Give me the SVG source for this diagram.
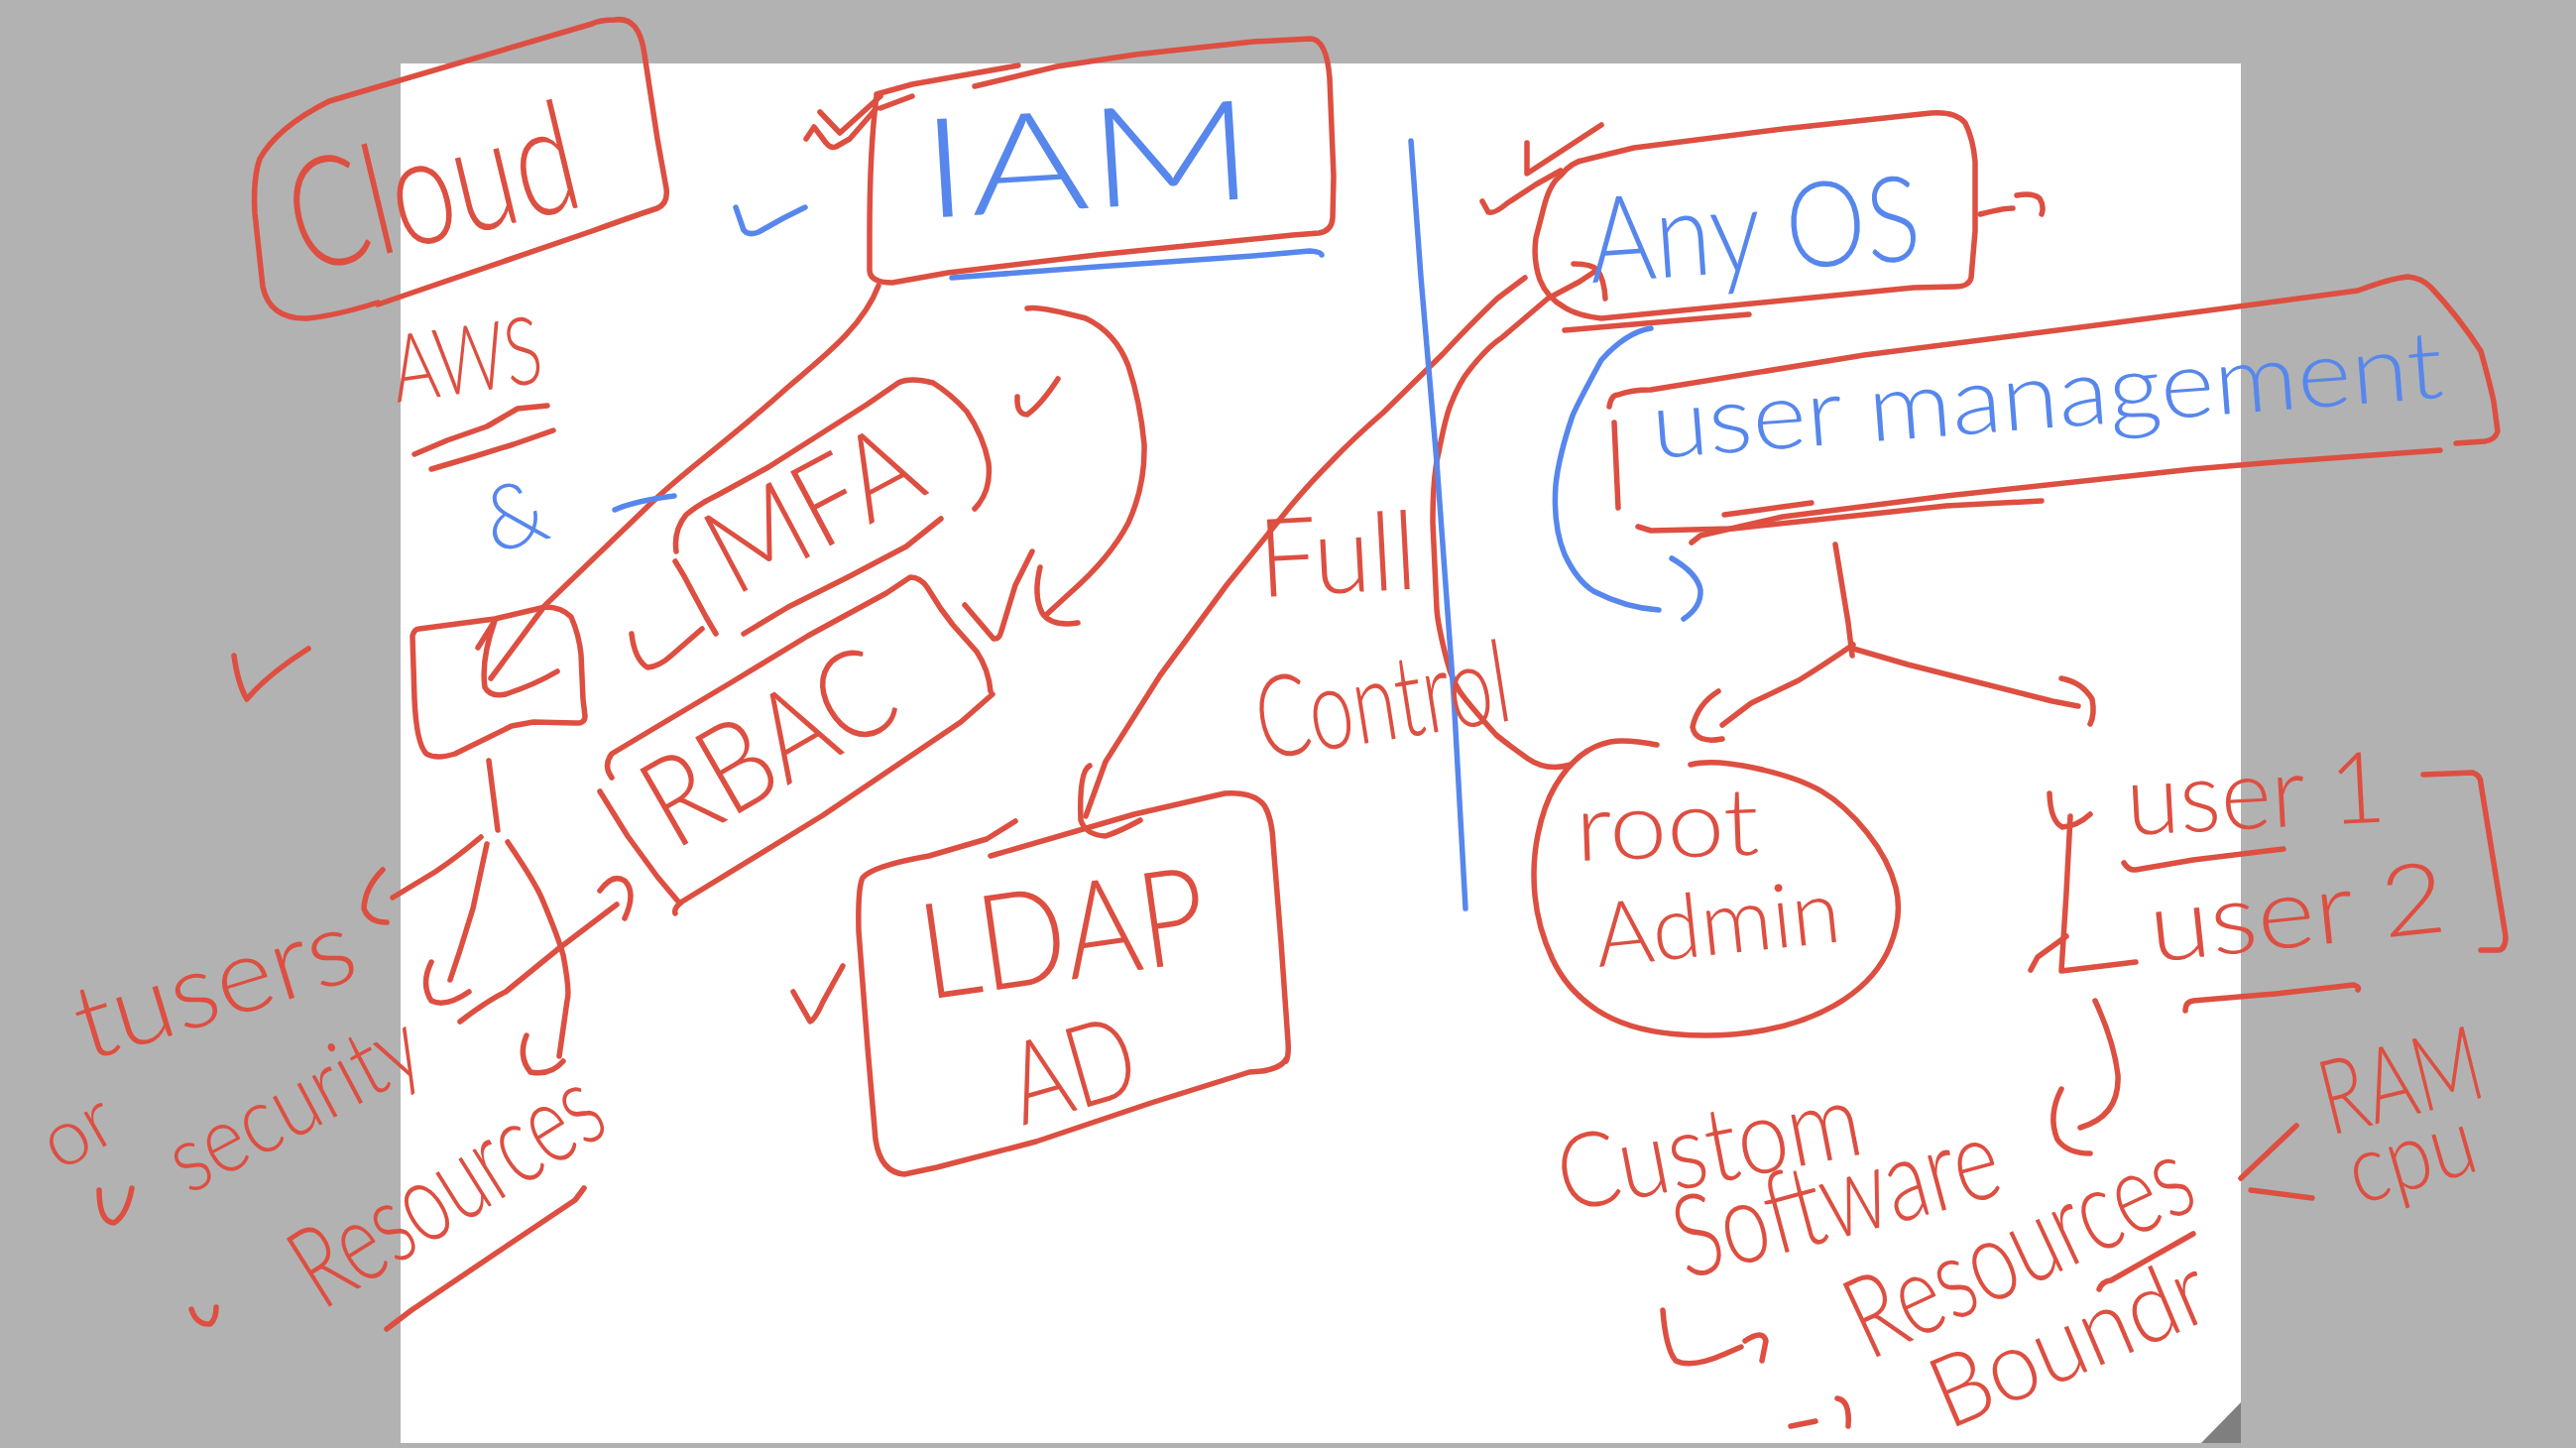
<svg xmlns="http://www.w3.org/2000/svg" width="2598" height="1460" viewBox="0 0 2598 1460">
<style>
.r{fill:none;stroke:#dd4f41;stroke-width:5.5;stroke-linecap:round;stroke-linejoin:round}
.b{fill:none;stroke:#5787ec;stroke-width:5.5;stroke-linecap:round;stroke-linejoin:round}
.t{font-family:Lato,"Liberation Sans",sans-serif;font-weight:300;fill:#dd4f41}
.tb{font-family:Lato,"Liberation Sans",sans-serif;font-weight:300;fill:#5787ec}
</style>
<rect x="0" y="0" width="2598" height="1460" fill="#b2b2b2"/>
<rect x="404" y="64" width="1856" height="1391" fill="#ffffff"/>
<path d="M2220,1455 L2260,1414 L2260,1455 Z" fill="#7f7f7f"/>

<g id="connectors">
  <path class="r" d="M886,288 C870,330 830,360 795,390 C740,440 690,475 657,507 L550,610 L495,684"/>
  <path class="r" d="M482,653 L499,626 Q485,665 489,693 Q494,703 510,700 Q540,690 562,677"/>
  <path class="r" d="M493,767 L502,837"/>
  <path class="r" d="M485,844 Q460,865 439,879 L396,905"/>
  <path class="r" d="M386,877 Q368,895 367,916 Q372,930 390,930"/>
  <path class="r" d="M491,851 L477,916 L464,958 L454,988"/>
  <path class="r" d="M435,970 Q424,992 435,1009 Q450,1016 473,1000"/>
  <path class="r" d="M512,849 Q540,890 547,907 Q563,945 568,963 Q575,1000 572,1009 L564,1065"/>
  <path class="r" d="M531,1044 Q522,1065 535,1081 Q555,1085 568,1070"/>
  <path class="r" d="M464,1030 Q490,1010 510,1000 L564,956 L622,912"/>
  <path class="r" d="M605,898 Q618,880 630,888 Q642,900 630,926"/>
  <path class="r" d="M1036,311 Q1047,308 1095,321 Q1125,335 1138,369 Q1150,405 1154,448 Q1155,490 1138,527 Q1120,562 1079,598 L1055,620"/>
  <path class="r" d="M1049,572 Q1042,600 1051,618 Q1060,632 1087,628"/>
  <path class="r" d="M1538,280 L1510,301 Q1480,330 1455,357 L1395,416 Q1365,442 1344,464 Q1320,488 1301,511 L1237,590 L1170,681 L1115,768 L1095,823"/>
  <path class="r" d="M1099,772 Q1088,778 1090,827 Q1095,842 1115,843 Q1130,838 1150,827"/>
  <path class="r" d="M1584,771 Q1560,778 1541,765 Q1520,750 1509,741 Q1490,720 1478,705 Q1465,690 1459,665 Q1450,630 1449,614 L1445,527 Q1445,480 1451,456 Q1458,420 1463,408 Q1472,385 1482,373 Q1500,350 1514,341 L1561,301 L1593,284 L1611,272"/>
  <path class="r" d="M1587,266 Q1605,266 1611,272 Q1618,282 1619,301"/>
  <path class="r" d="M1997,216 Q2020,210 2030,210 M2034,197 Q2050,194 2057,200 Q2062,208 2059,216"/>
  <path class="r" d="M1851,549 L1864,628 L1868,661"/>
  <path class="r" d="M1869,650 Q1840,670 1814,686 L1766,709 L1737,731"/>
  <path class="r" d="M1733,697 Q1712,710 1707,733 Q1710,750 1737,745"/>
  <path class="r" d="M1869,654 L1924,670 L2070,707 L2096,712"/>
  <path class="r" d="M2079,684 Q2100,688 2110,705 Q2113,720 2108,730"/>
  <path class="r" d="M2113,1009 Q2132,1050 2136,1084 Q2138,1125 2098,1137"/>
  <path class="r" d="M2079,1098 Q2065,1125 2075,1149 Q2085,1163 2108,1163"/>
  <path class="r" d="M1677,1321 Q1680,1360 1690,1372 Q1706,1380 1740,1365 L1756,1358 M1760,1352 Q1778,1340 1781,1352 L1777,1372"/>
  <path class="r" d="M1806,1438 L1831,1433 M1853,1410 Q1866,1412 1864,1438"/>
  <path class="r" d="M2316,1135 L2260,1188 M2270,1200 L2332,1208"/>
  <path class="b" d="M620,514 Q640,505 680,500"/>
</g>

<g id="background-line">
  <path class="b" d="M1423,142 L1433,279 L1449,466 L1466,700 L1478,916"/>
</g>

<g id="marks">
  <path class="r" d="M236,661 Q240,690 249,705 Q270,680 311,654"/>
  <path class="r" d="M813,140 L821,128 L833,144 Q838,150 843,148 L857,140 L884,109 M827,113 L847,134 L888,97 M888,109 L920,97"/>
  <path class="b" d="M742,209 L750,232 Q755,238 765,234 L790,220 L812,209"/>
  <path class="r" d="M1026,400 Q1025,418 1036,418 Q1050,408 1067,382"/>
  <path class="r" d="M973,610 L1002,644 Q1008,645 1010,636 L1024,590 L1041,556"/>
  <path class="r" d="M800,1000 L817,1030 Q822,1028 830,1010 L850,974"/>
  <path class="r" d="M1495,203 L1501,214 Q1507,216 1520,205 L1549,186 L1574,172 M1540,144 L1540,175 L1615,126"/>
  <path class="r" d="M100,1200 Q100,1232 115,1233 Q128,1225 133,1198"/>
  <path class="r" d="M193,1320 Q198,1336 212,1335 Q218,1330 218,1318"/>
  <path class="r" d="M589,1198 L580,1210 L498,1265 L415,1321 L390,1340"/>
  <path class="r" d="M2117,1300 Q2120,1292 2129,1291 L2212,1244"/>
</g>

<g id="cloud">
  <path class="r" d="M381,307 L597,233 Q650,214 663,210 Q674,205 672,190 L663,140 L650,55 Q645,16 620,20 Q605,20 597,24 L332,102 Q280,128 262,160 Q255,180 257,215 L265,289 Q272,322 310,321 Q340,318 381,305"/>
  <text class="t" transform="translate(305,276) rotate(-13.5)" font-size="155" textLength="295" lengthAdjust="spacingAndGlyphs">Cloud</text>
</g>

<g id="aws">
  <text class="t" transform="translate(400,406) rotate(-8)" font-size="95" textLength="152" lengthAdjust="spacingAndGlyphs">AWS</text>
  <path class="r" d="M418,458 L451,444 L491,430 L522,412 L552,409 M435,473 L479,460 L518,448 L558,434"/>
  <text class="tb" transform="translate(497,558) rotate(-15)" font-size="90">&amp;</text>
</g>

<g id="iam">
  <path class="r" d="M884,97 Q877,150 877,237 L877,273 Q878,285 900,285 L956,275 L1106,257 L1304,237 L1330,235 Q1343,233 1344,220 L1345,178 L1341,79 Q1338,40 1322,39 L1264,42 L1145,55 L1066,67 L983,87"/>
  <path class="r" d="M884,95 L920,85 L1027,66"/>
  <path class="b" d="M960,280 L1106,269 L1264,258 L1321,253 Q1333,254 1333,257"/>
  <text class="tb" transform="translate(932,220) rotate(-3.5)" font-size="140" textLength="336" lengthAdjust="spacingAndGlyphs">IAM</text>
</g>

<g id="iam-target-box">
  <path class="r" d="M423,634 L499,624 L550,612 Q566,612 576,622 Q584,640 586,660 L588,705 L590,722 Q590,730 580,729 L538,728 L516,732 L459,760 Q440,766 430,760 Q420,750 418,705 L416,641 Q418,634 423,634"/>
</g>

<g id="mfa">
  <path class="r" d="M682,556 Q679,535 692,519 Q705,508 724,499 L775,471 L874,408 L906,386 Q918,380 941,386 Q960,398 975,415 Q992,440 997,467 Q1000,495 983,513"/>
  <path class="r" d="M750,639 L795,612 L855,582 L914,551 L949,523"/>
  <path class="r" d="M637,639 Q640,665 653,673 Q665,672 677,661 L708,634"/>
  <path class="r" d="M681,566 Q690,580 698,596 L712,622 L722,639"/>
  <text class="t" transform="translate(740,602) rotate(-28)" font-size="120" textLength="225" lengthAdjust="spacingAndGlyphs">MFA</text>
</g>

<g id="rbac">
  <path class="r" d="M617,784 Q608,772 617,760 L657,736 L736,689 L815,641 L894,598 L918,582 Q928,582 935,592 L949,614 L961,630 L985,657 Q997,675 999,697"/>
  <path class="r" d="M1001,700 L969,728 L830,822 L688,909 Q679,916 681,921"/>
  <path class="r" d="M605,798 L633,843 L663,884 L684,909"/>
  <text class="t" transform="translate(680,858) rotate(-30)" font-size="125" textLength="270" lengthAdjust="spacingAndGlyphs">RBAC</text>
</g>

<g id="ldap">
  <path class="r" d="M1024,828 L995,846 L937,863 Q880,873 870,885 Q865,895 866,939 L875,1056 L883,1149 Q888,1182 912,1184 L945,1177 L1045,1151 L1161,1112 L1260,1081 Q1290,1080 1297,1068"/>
  <path class="r" d="M999,863 L1144,821 L1235,800 Q1264,798 1275,812 Q1283,825 1284,850 L1292,950 L1299,1050 Q1300,1065 1297,1070"/>
  <text class="t" transform="translate(935,1008) rotate(-8)" font-size="135" textLength="290" lengthAdjust="spacingAndGlyphs">LDAP</text>
  <text class="t" transform="translate(1031,1135) rotate(-16)" font-size="115" textLength="128" lengthAdjust="spacingAndGlyphs">AD</text>
</g>

<g id="full-control">
  <text class="t" transform="translate(1271,602) rotate(-3)" font-size="110" textLength="160" lengthAdjust="spacingAndGlyphs">Full</text>
  <text class="t" transform="translate(1273,766) rotate(-9)" font-size="115" textLength="258" lengthAdjust="spacingAndGlyphs">Control</text>
</g>

<g id="any-os">
  <path class="r" d="M1574,177 Q1585,163 1599,161 L1648,149 L1798,130 L1947,114 Q1972,112 1982,124 Q1990,140 1992,163 L1992,233 L1988,280 Q1986,289 1972,289 L1930,290 L1798,303 L1615,321 Q1590,318 1578,310 Q1560,300 1553,282 Q1546,262 1549,240 L1557,209 Q1563,185 1574,177"/>
  <path class="r" d="M1578,333 L1764,317"/>
  <text class="tb" transform="translate(1605,285) rotate(-4)" font-size="120" textLength="335" lengthAdjust="spacingAndGlyphs">Any OS</text>
</g>

<g id="user-management">
  <path class="r" d="M1623,410 Q1625,398 1632,398 Q1645,393 1665,393 L1880,358 L2129,326 L2378,293 Q2410,281 2428,279 Q2442,280 2452,290 Q2480,320 2502,354 Q2512,390 2515,405 L2519,435 Q2516,444 2506,445 L2477,447"/>
  <path class="r" d="M2461,454 L2295,466 L2212,473 L1963,500 L1798,521 L1715,540 L1706,547"/>
  <path class="r" d="M1628,426 L1632,512"/>
  <path class="r" d="M1652,531 L1665,535 L1748,533 L1880,519 L1963,510 L2059,505 M1739,519 L1827,507"/>
  <path class="b" d="M1665,331 Q1640,335 1615,363 Q1592,405 1586,419 Q1572,460 1569,489 Q1566,530 1578,559 Q1590,585 1607,596 Q1640,613 1673,615"/>
  <path class="b" d="M1686,563 Q1712,578 1715,595 Q1716,612 1698,624"/>
  <text class="tb" transform="translate(1668,462) rotate(-4.4)" font-size="95" textLength="800" lengthAdjust="spacingAndGlyphs">user management</text>
</g>

<g id="root-admin">
  <path class="r" d="M1671,751 Q1640,745 1624,748 Q1608,751 1594,762 Q1580,773 1568.5,792.5 Q1557,812 1551,841.5 Q1545,871 1548,903 Q1551,935 1565.5,966.5 Q1580,998 1610,1018 Q1640,1038 1687.5,1042.5 Q1735,1047 1780.5,1038.5 Q1826,1030 1859.5,1008 Q1893,986 1906,954.5 Q1919,923 1912,895 Q1905,867 1883,839.5 Q1861,812 1837.5,798 Q1814,784 1770.5,774.5 Q1727,765 1705,771"/>
  <text class="t" transform="translate(1590,868) rotate(-2)" font-size="95" textLength="185" lengthAdjust="spacingAndGlyphs">root</text>
  <text class="t" transform="translate(1612,975) rotate(-6)" font-size="90" textLength="248" lengthAdjust="spacingAndGlyphs">Admin</text>
</g>

<g id="users">
  <path class="r" d="M2088,823 L2084,900 L2079,979 L2154,970"/>
  <path class="r" d="M2067,800 Q2068,828 2080,834 Q2095,833 2108,821"/>
  <path class="r" d="M2084,944 L2055,965 L2048,978"/>
  <path class="r" d="M2444,781 L2494,779 Q2502,782 2502,790 L2515,870 L2527,944 Q2527,958 2519,958 L2502,958"/>
  <path class="r" d="M2142,870 Q2147,878 2154,877 L2212,867 L2303,856"/>
  <path class="r" d="M2204,1019 Q2204,1010 2212,1009 L2295,1002 L2374,993 Q2380,995 2378,998"/>
  <text class="t" transform="translate(2146,842) rotate(-3)" font-size="100" textLength="262" lengthAdjust="spacingAndGlyphs">user 1</text>
  <text class="t" transform="translate(2171,970) rotate(-6)" font-size="100" textLength="300" lengthAdjust="spacingAndGlyphs">user 2</text>
</g>

<g id="custom-software">
  <text class="t" transform="translate(1578,1222) rotate(-11)" font-size="105" textLength="310" lengthAdjust="spacingAndGlyphs">Custom</text>
  <text class="t" transform="translate(1700,1290) rotate(-15)" font-size="115" textLength="335" lengthAdjust="spacingAndGlyphs">Software</text>
  <text class="t" transform="translate(1885,1372) rotate(-25)" font-size="115" textLength="370" lengthAdjust="spacingAndGlyphs">Resources</text>
  <text class="t" transform="translate(1965,1442) rotate(-23)" font-size="100" textLength="294" lengthAdjust="spacingAndGlyphs">Boundr</text>
  <text class="t" transform="translate(2350,1145) rotate(-14)" font-size="105" textLength="165" lengthAdjust="spacingAndGlyphs">RAM</text>
  <text class="t" transform="translate(2378,1215) rotate(-16)" font-size="95" textLength="130" lengthAdjust="spacingAndGlyphs">cpu</text>
</g>

<g id="left-notes">
  <text class="t" transform="translate(60,1182) rotate(-30)" font-size="80">or</text>
  <text class="t" transform="translate(88,1070) rotate(-17)" font-size="105" textLength="290" lengthAdjust="spacingAndGlyphs">tusers</text>
  <text class="t" transform="translate(190,1205) rotate(-28)" font-size="95" textLength="275" lengthAdjust="spacingAndGlyphs">security</text>
  <text class="t" transform="translate(325,1322) rotate(-32)" font-size="115" textLength="345" lengthAdjust="spacingAndGlyphs">Resources</text>
</g>
</svg>
